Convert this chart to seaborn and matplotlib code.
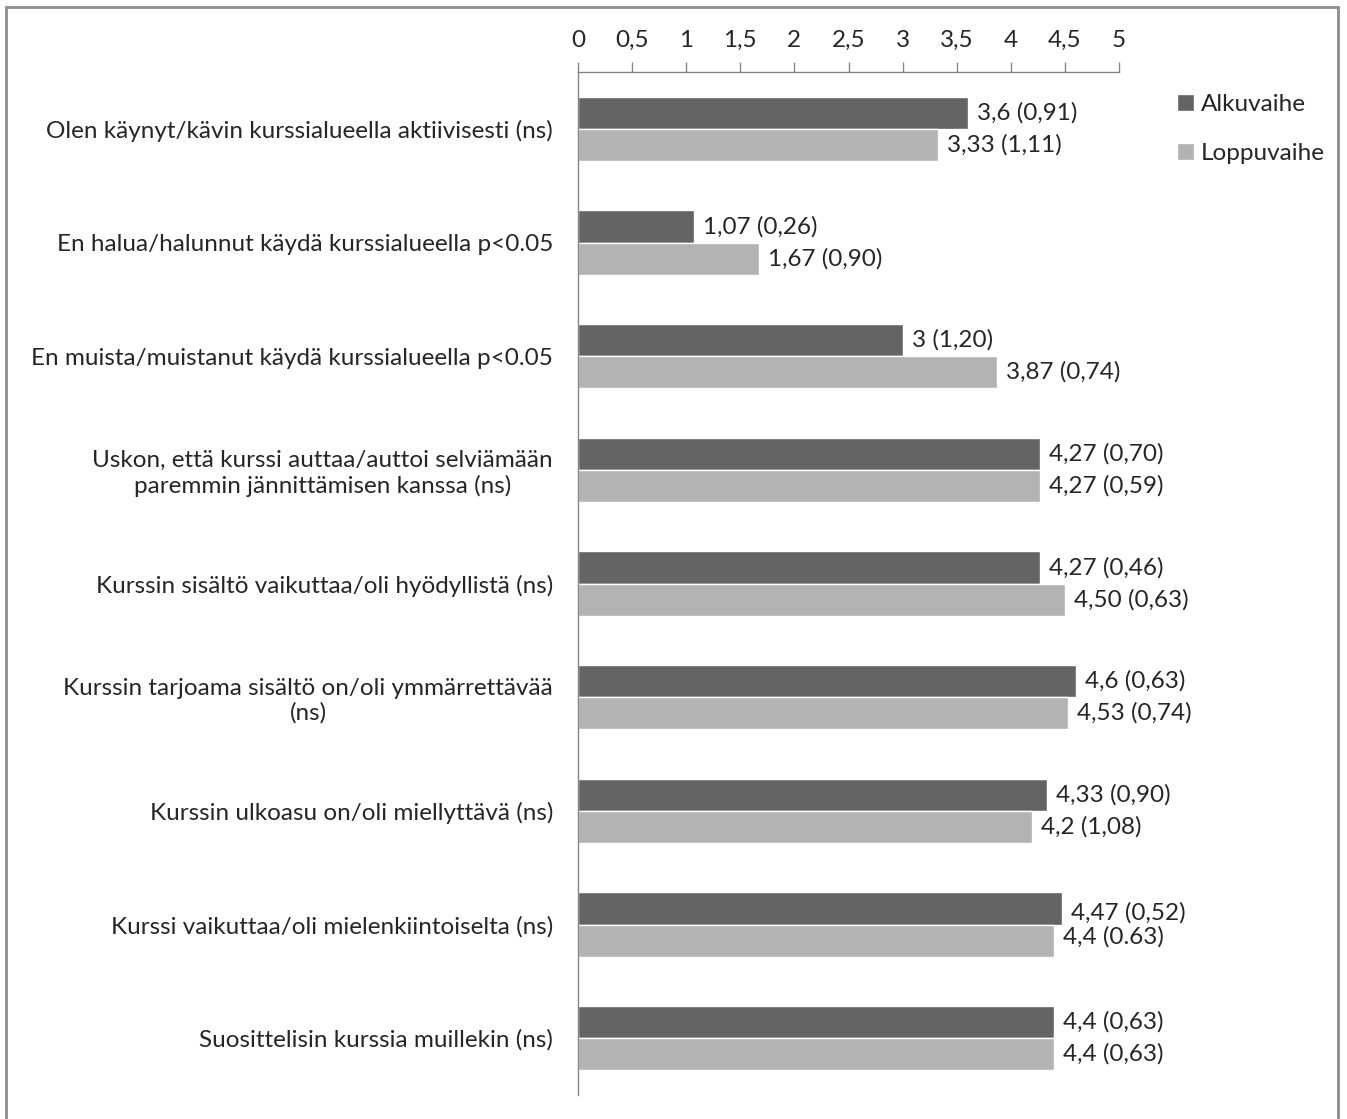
import matplotlib
matplotlib.use("Agg")
import matplotlib.pyplot as plt
from matplotlib.patches import Rectangle
import seaborn as sns
import pandas as pd

categories = [
    "Olen käynyt/kävin kurssialueella aktiivisesti (ns)",
    "En halua/halunnut käydä kurssialueella p<0.05",
    "En muista/muistanut käydä kurssialueella p<0.05",
    "Uskon, että kurssi auttaa/auttoi selviämään\nparemmin jännittämisen kanssa (ns)",
    "Kurssin sisältö vaikuttaa/oli hyödyllistä (ns)",
    "Kurssin tarjoama sisältö on/oli ymmärrettävää\n(ns)",
    "Kurssin ulkoasu on/oli miellyttävä (ns)",
    "Kurssi vaikuttaa/oli mielenkiintoiselta (ns)",
    "Suosittelisin kurssia muillekin (ns)",
]
series = ["Alkuvaihe", "Loppuvaihe"]
alku = [3.6, 1.07, 3.0, 4.27, 4.27, 4.6, 4.33, 4.47, 4.4]
loppu = [3.33, 1.67, 3.87, 4.27, 4.50, 4.53, 4.2, 4.4, 4.4]
alku_labels = ["3,6 (0,91)", "1,07 (0,26)", "3 (1,20)", "4,27 (0,70)", "4,27 (0,46)",
               "4,6 (0,63)", "4,33 (0,90)", "4,47 (0,52)", "4,4 (0,63)"]
loppu_labels = ["3,33 (1,11)", "1,67 (0,90)", "3,87 (0,74)", "4,27 (0,59)", "4,50 (0,63)",
                "4,53 (0,74)", "4,2 (1,08)", "4,4 (0.63)", "4,4 (0,63)"]
xticks = [0, 0.5, 1, 1.5, 2, 2.5, 3, 3.5, 4, 4.5, 5]
xtick_labels = ["0", "0,5", "1", "1,5", "2", "2,5", "3", "3,5", "4", "4,5", "5"]
colors = ["#646464", "#b3b3b3"]
fs = 17.5

df = pd.DataFrame({
    "kysymys": categories * 2,
    "vaihe": [series[0]] * len(categories) + [series[1]] * len(categories),
    "arvo": alku + loppu,
})

sns.set_style("white")
plt.rcParams["font.family"] = ["Lato", "DejaVu Sans"]

fig = plt.figure(figsize=(13.47, 11.19), dpi=100)
ax = fig.add_axes([578 / 1347, 1 - 1095 / 1119, (1119 - 578) / 1347, (1095 - 72) / 1119])

sns.barplot(data=df, y="kysymys", x="arvo", hue="vaihe", order=categories,
            hue_order=series, palette=colors, width=0.565, saturation=1,
            ax=ax, legend=True)

ax.set_xlim(0, 5)
ax.set_ylim(len(categories) - 0.5, -0.5)
ax.xaxis.tick_top()
ax.set_xticks(xticks)
ax.set_xticklabels(xtick_labels, fontsize=fs)
ax.tick_params(axis="x", direction="out", length=7, width=1, color="#868686", pad=8)
ax.set_yticks(range(len(categories)))
ax.set_yticklabels(categories, fontsize=fs)
ax.set_yticks([i - 0.5 for i in range(len(categories) + 1)], minor=True)
ax.tick_params(axis="y", which="major", length=0, pad=18)
ax.tick_params(axis="y", which="minor", direction="out", length=5, width=1, color="#868686")
for lab in ax.get_yticklabels():
    lab.set_multialignment("center")
ax.set_xlabel("")
ax.set_ylabel("")
for side in ["right", "bottom"]:
    ax.spines[side].set_visible(False)
for side in ["top", "left"]:
    ax.spines[side].set_color("#868686")
    ax.spines[side].set_linewidth(1)

# value labels at bar ends
off = 0.565 / 4
for i in range(len(categories)):
    dy1, dy2 = 0, 0
    if i == 7:
        dy1, dy2 = 0.04, -0.03
    ax.annotate(alku_labels[i], (alku[i], i - off + dy1), xytext=(6.5, 0),
                textcoords="offset points", va="center", ha="left", fontsize=fs)
    ax.annotate(loppu_labels[i], (loppu[i], i + off + dy2), xytext=(6.5, 0),
                textcoords="offset points", va="center", ha="left", fontsize=fs)

leg = ax.legend(loc="upper left", bbox_to_anchor=(1155 / 1347, 1 - 72 / 1119),
                bbox_transform=fig.transFigure, frameon=False, fontsize=fs,
                handlelength=0.7, handleheight=0.7, handletextpad=0.3,
                labelspacing=1.15)

fig.patches.append(Rectangle((6 / 1347, -0.01), (1338 - 6) / 1347, 1.01 - 7 / 1119,
                             transform=fig.transFigure, fill=False,
                             edgecolor="#8c8c8c", linewidth=2))

fig.savefig("out.png", dpi=100)
